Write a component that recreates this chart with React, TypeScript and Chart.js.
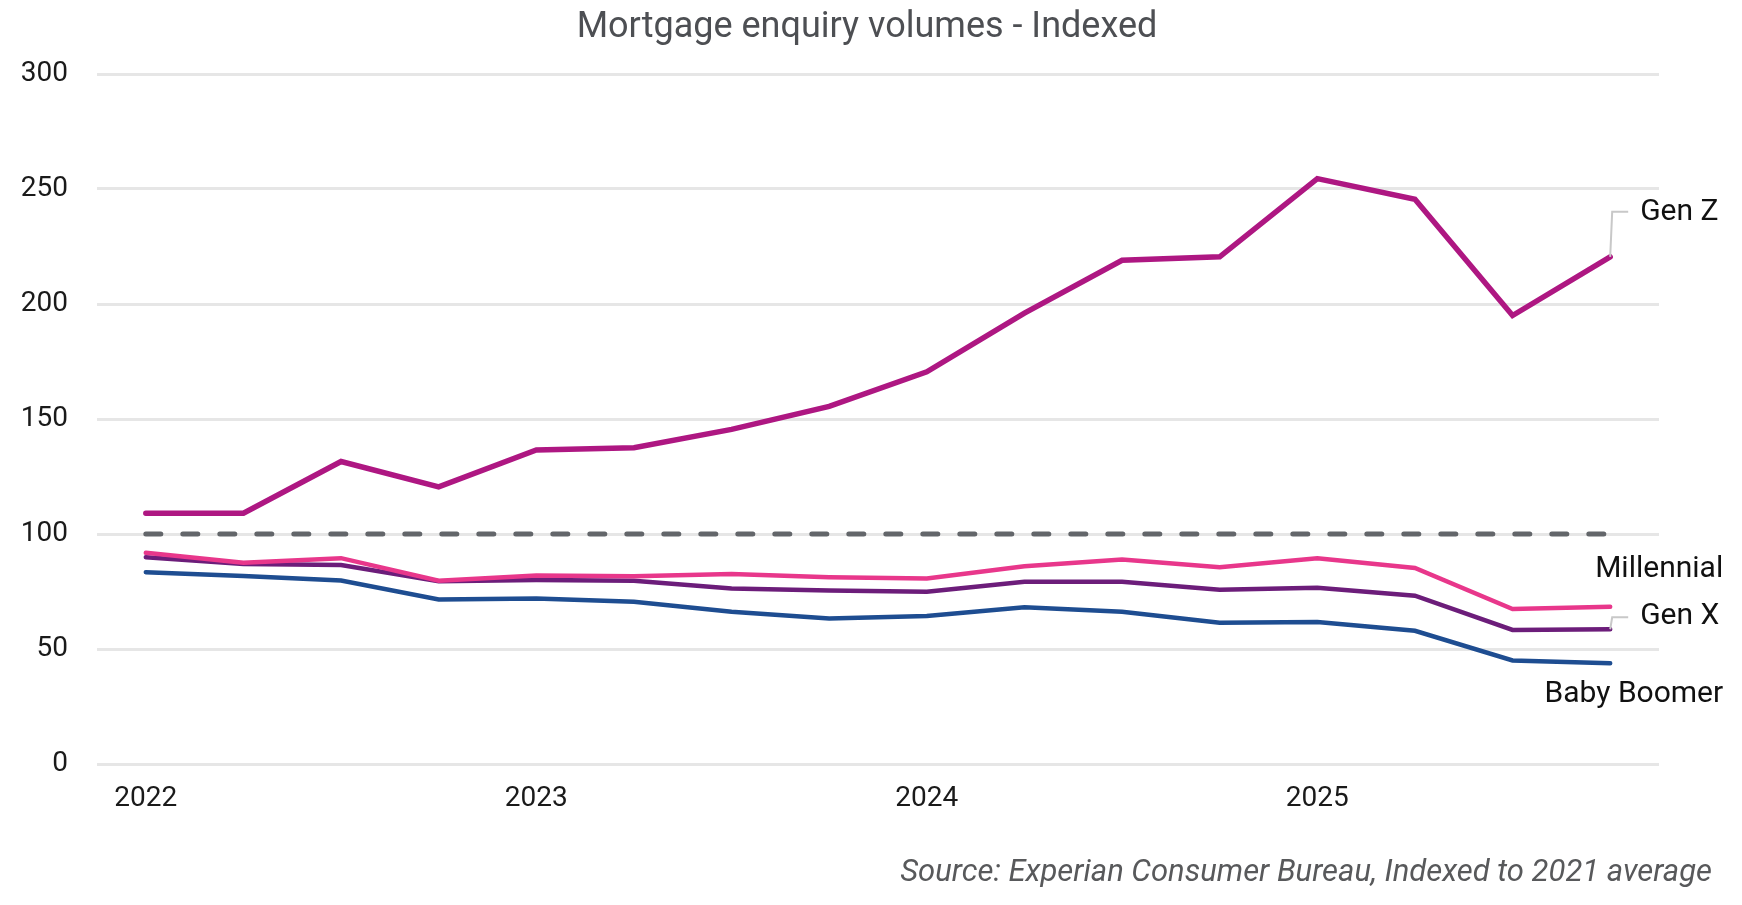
import React, { useEffect, useRef } from "react";
import { Chart, registerables } from "chart.js";

Chart.register(...registerables);

const quarters = [
  "2022 Q1", "2022 Q2", "2022 Q3", "2022 Q4",
  "2023 Q1", "2023 Q2", "2023 Q3", "2023 Q4",
  "2024 Q1", "2024 Q2", "2024 Q3", "2024 Q4",
  "2025 Q1", "2025 Q2", "2025 Q3", "2025 Q4",
];
const yearTicks = ["2022", "2023", "2024", "2025"];
const yTicks = [0, 50, 100, 150, 200, 250, 300];

const genZ = [109, 109, 131.5, 120.5, 136.5, 137.5, 145.5, 155.5, 170.5, 196, 219, 220.5, 254.5, 245.5, 195, 220.5];
const millennial = [91.8, 87.5, 89.5, 79.7, 82, 81.6, 82.6, 81.2, 80.7, 86, 88.9, 85.5, 89.5, 85.2, 67.4, 68.4];
const genX = [89.9, 87, 86.5, 79.5, 80, 79.7, 76.3, 75.4, 74.9, 79.2, 79.2, 75.8, 76.6, 73.2, 58.3, 58.6];
const babyBoomer = [83.4, 81.7, 79.8, 71.5, 72, 70.5, 66.2, 63.3, 64.3, 68.1, 66.2, 61.4, 61.7, 57.9, 45, 43.8];
const baseline2021 = [100, 100, 100, 100, 100, 100, 100, 100, 100, 100, 100, 100, 100, 100, 100, 100];

const titleText = "Mortgage enquiry volumes - Indexed";
const sourceText = "Source: Experian Consumer Bureau, Indexed to 2021 average";

const COLORS = {
  genZ: "#ae1782",
  millennial: "#e8378b",
  genX: "#6c1d7a",
  boomer: "#1e4d91",
  base: "#63666a",
  grid: "#e6e6e6",
  leader: "#c8c8c8",
};

const FONT = "Roboto, 'Noto Sans', sans-serif";

const textPlugin = {
  id: "textPlugin",
  afterDraw(chart: any) {
    const ctx = chart.ctx;
    const xs = chart.scales.x;
    const ys = chart.scales.y;
    ctx.save();
    // Title
    ctx.font = `36px ${FONT}`;
    ctx.fillStyle = "#4d4f53";
    ctx.textAlign = "center";
    ctx.textBaseline = "alphabetic";
    ctx.fillText(titleText, 867, 37);
    // Source
    ctx.font = `italic 31px ${FONT}`;
    ctx.fillStyle = "#58595b";
    ctx.textAlign = "right";
    ctx.fillText(sourceText, 1712, 881);

    const last = quarters.length - 1;
    const x = xs.getPixelForValue(last);
    const yZ = ys.getPixelForValue(genZ[last]);
    const yM = ys.getPixelForValue(millennial[last]);
    const yX = ys.getPixelForValue(genX[last]);
    const yB = ys.getPixelForValue(babyBoomer[last]);

    // leader lines
    ctx.strokeStyle = COLORS.leader;
    ctx.lineWidth = 2;
    ctx.lineJoin = "miter";
    ctx.beginPath();
    ctx.moveTo(x, yZ);
    ctx.lineTo(x + 2, yZ - 45);
    ctx.lineTo(x + 18, yZ - 45);
    ctx.stroke();
    ctx.beginPath();
    ctx.moveTo(x, yX);
    ctx.lineTo(x + 2, yX - 12);
    ctx.lineTo(x + 18, yX - 12);
    ctx.stroke();

    ctx.font = `30px ${FONT}`;
    ctx.fillStyle = "#111111";
    ctx.textAlign = "left";
    ctx.fillText("Gen Z", x + 30, yZ - 37);
    ctx.fillText("Gen X", x + 30, yX - 5);
    ctx.textAlign = "right";
    ctx.fillText("Millennial", x + 113, yM - 30);
    ctx.fillText("Baby Boomer", x + 113, yB + 39);
    ctx.restore();
  },
};

export default function App() {
  const ref = useRef<HTMLCanvasElement>(null);

  useEffect(() => {
    if (!ref.current) return;
    const line = (label: string, data: number[], color: string, width: number, order: number) => ({
      label,
      data,
      borderColor: color,
      backgroundColor: color,
      borderWidth: width,
      pointRadius: 0,
      tension: 0,
      borderCapStyle: "round" as const,
      borderJoinStyle: "miter" as const,
      fill: false,
      order,
    });
    const chart = new Chart(ref.current, {
      type: "line",
      data: {
        labels: quarters,
        datasets: [
          line("Gen Z", genZ, COLORS.genZ, 5.5, 0),
          line("Millennial", millennial, COLORS.millennial, 4.5, 1),
          line("Gen X", genX, COLORS.genX, 4.5, 2),
          line("Baby Boomer", babyBoomer, COLORS.boomer, 4.5, 3),
          {
            ...line("2021 average", baseline2021, COLORS.base, 5, 4),
            borderDash: [15, 22],
          },
        ],
      },
      options: {
        responsive: false,
        animation: false,
        devicePixelRatio: 1,
        layout: { padding: { top: 74, right: 83, bottom: 91, left: 0 } },
        plugins: {
          legend: { display: false },
          title: { display: false },
          tooltip: { enabled: false },
        },
        scales: {
          x: {
            type: "category",
            offset: true,
            grid: { display: false, drawTicks: false },
            border: { display: false },
            afterFit(scale: any) {
              scale.height = 50;
            },
            ticks: {
              autoSkip: false,
              maxRotation: 0,
              padding: 18,
              color: "#1a1a1a",
              font: { family: FONT, size: 28 },
              callback: (_v: any, idx: number) => (idx % 4 === 0 ? yearTicks[idx / 4] : ""),
            },
          },
          y: {
            min: yTicks[0],
            max: yTicks[yTicks.length - 1],
            grid: { color: COLORS.grid, lineWidth: 3, drawTicks: false },
            border: { display: false },
            afterFit(scale: any) {
              scale.width = 97;
            },
            afterBuildTicks(scale: any) {
              scale.ticks = yTicks.map((v) => ({ value: v }));
            },
            ticks: {
              padding: 29,
              color: "#1a1a1a",
              font: { family: FONT, size: 28 },
            },
          },
        },
      },
      plugins: [textPlugin],
    });
    return () => chart.destroy();
  }, []);

  return (
    <div style={{ position: "absolute", left: 0, top: 0, width: 1742, height: 905, background: "#ffffff" }}>
      <canvas ref={ref} width={1742} height={905} style={{ width: 1742, height: 905, display: "block" }} />
    </div>
  );
}
